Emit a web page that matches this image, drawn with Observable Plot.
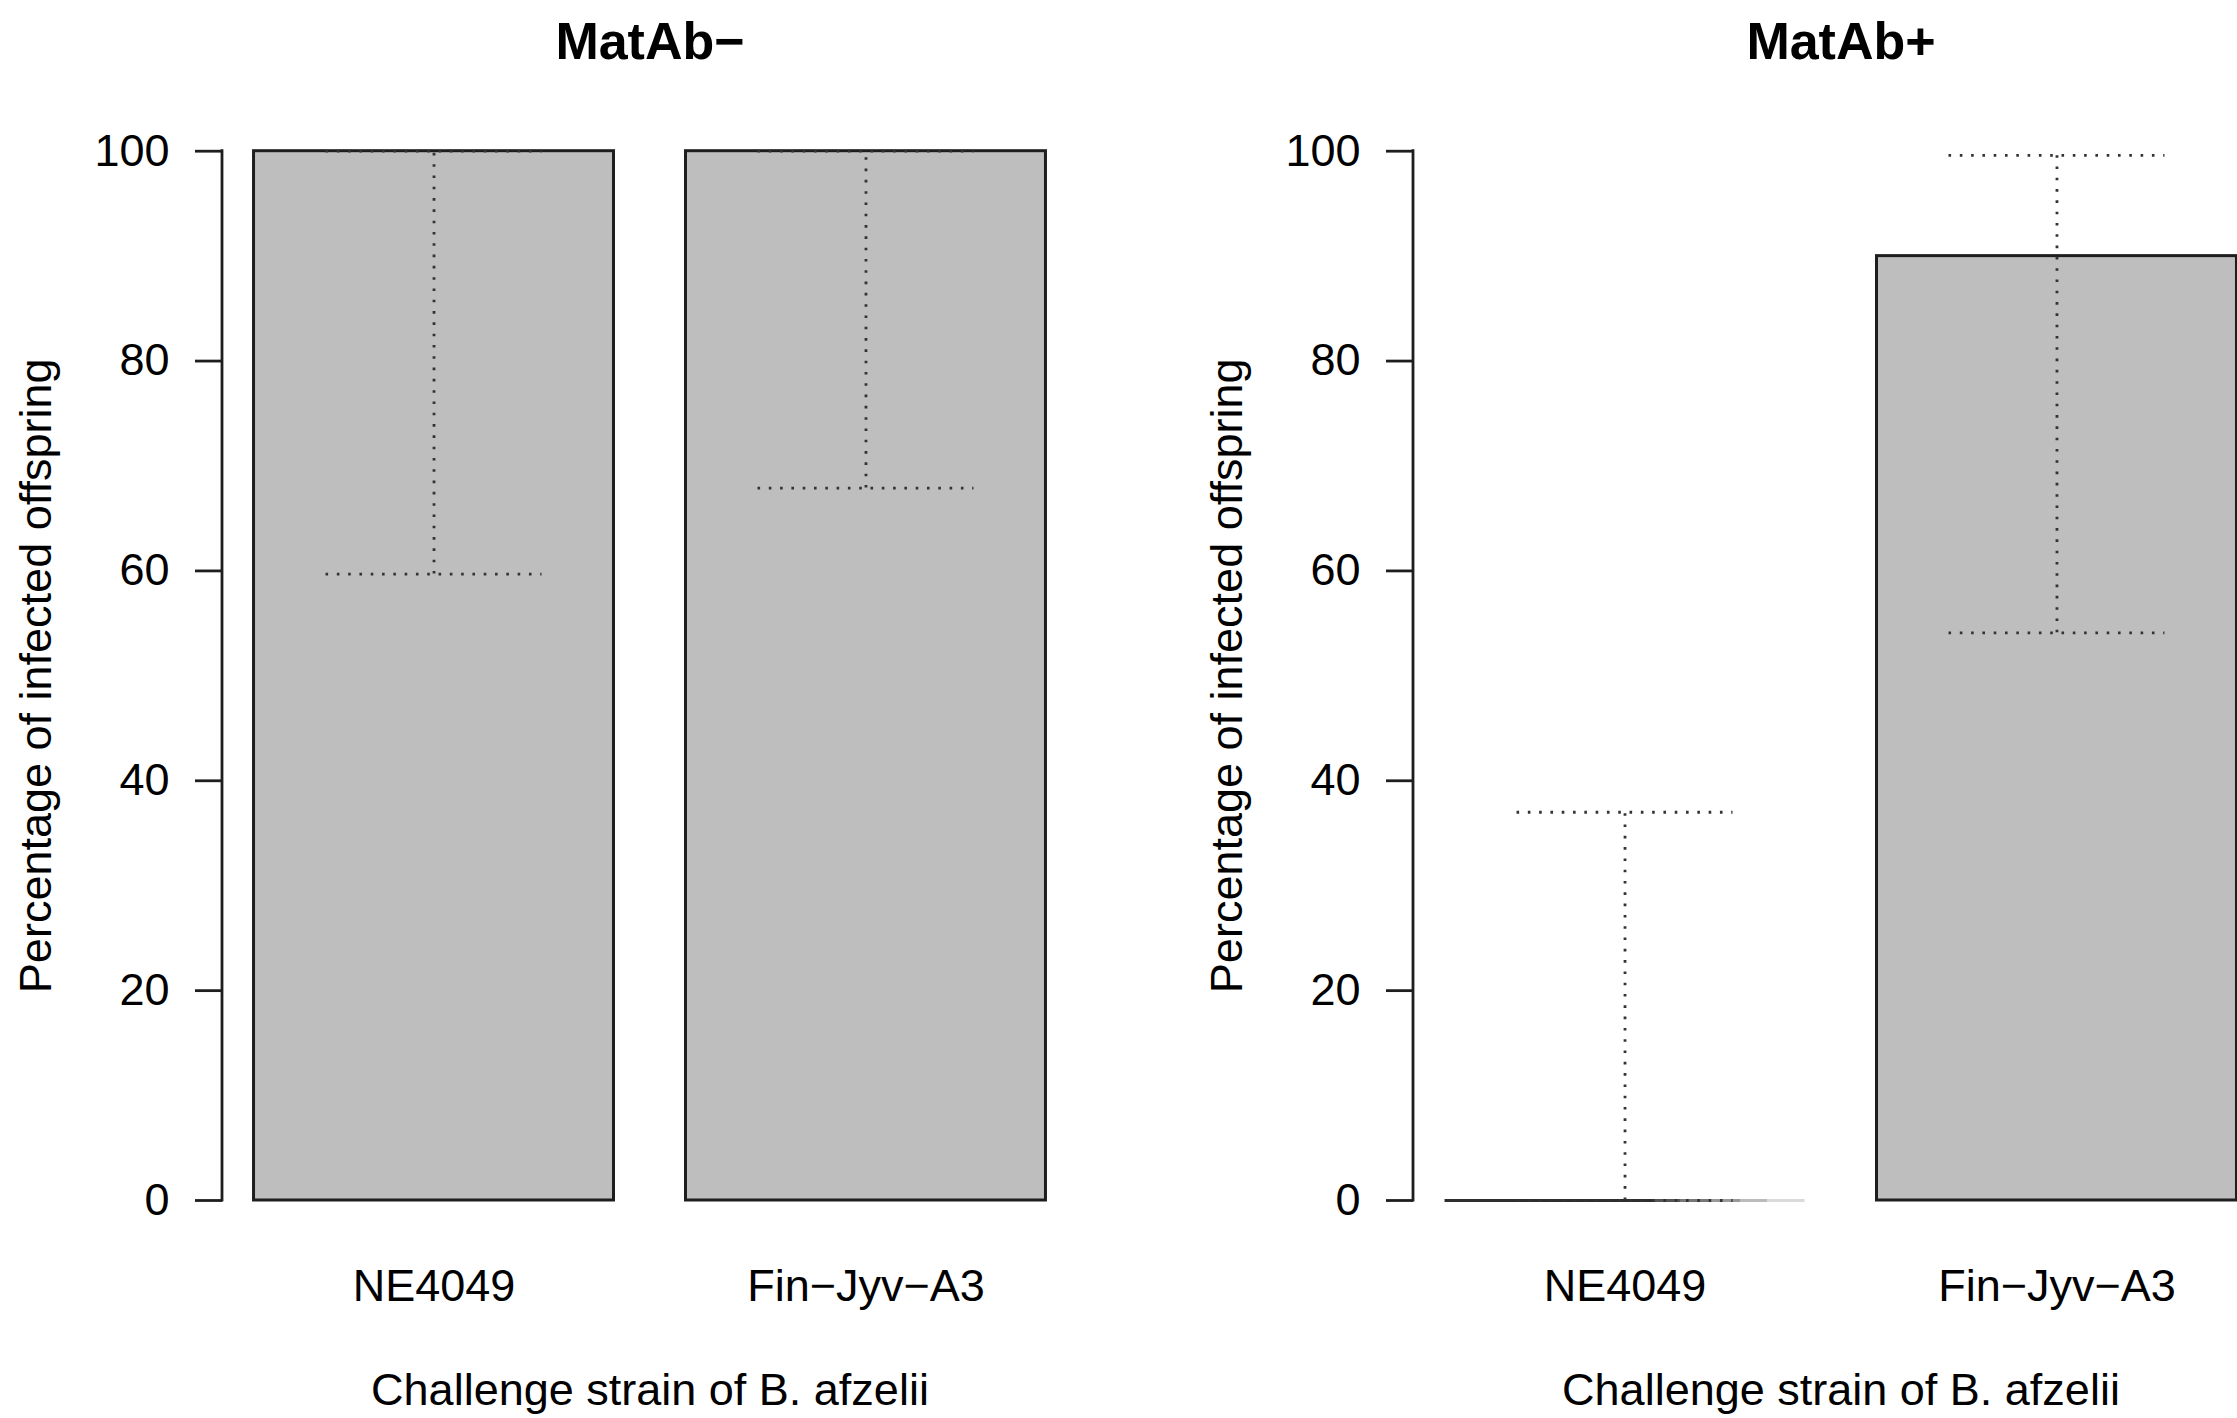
<!DOCTYPE html>
<html>
<head>
<meta charset="utf-8">
<script src="https://cdn.jsdelivr.net/npm/d3@7"></script>
<script src="https://cdn.jsdelivr.net/npm/@observablehq/plot@0.6"></script>
<style>
  html, body { margin: 0; padding: 0; background: #ffffff; }
  #wrap { position: relative; width: 2237px; height: 1418px; overflow: hidden; background: #ffffff; }
  #wrap > .panel { position: absolute; top: 0; }
</style>
</head>
<body>
<div id="wrap"></div>
<script>
// ---- data ----
const categories = ["NE4049", "Fin\u2212Jyv\u2212A3"];
const panelTitles = ["MatAb\u2212", "MatAb+"];
const xAxisTitle = "Challenge strain of B. afzelii";
const yAxisTitle = "Percentage of infected offspring";
const yTicks = [0, 20, 40, 60, 80, 100];

const matAbMinusValues = [100, 100];
const matAbMinusLower  = [59.7, 67.9];
const matAbMinusUpper  = [100, 100];

const matAbPlusValues = [0, 90];
const matAbPlusLower  = [0, 54.1];
const matAbPlusUpper  = [37.0, 99.6];

// ---- drawing ----
const FONT = "'Liberation Sans', Arial, Helvetica, sans-serif";
const INK = "#1e1e1e";
const DOT = "#333333";
const FS = 45;

function makePanel(idx, title, values, lower, upper) {
  const data = categories.map((c, i) => ({strain: c, value: values[i], lo: lower[i], hi: upper[i]}));
  const W = 1118, H = 1418;
  const gradId = "zeroFade" + idx;

  const gradientDefs = (index, scales) => {
    const xs = scales.x;
    const bw = typeof xs.bandwidth === "function" ? xs.bandwidth() : xs.bandwidth;
    const defs = d3.create("svg:defs");
    const zero = data.find(d => d.value === 0);
    const x0 = zero ? xs(zero.strain) : 0;
    const g = defs.append("linearGradient")
      .attr("id", gradId)
      .attr("gradientUnits", "userSpaceOnUse")
      .attr("x1", x0).attr("x2", x0 + bw).attr("y1", 0).attr("y2", 0);
    const steps = [[0, "#2e2e2e"], [0.576, "#2e2e2e"], [0.576, "#555"], [0.655, "#555"], [0.655, "#777"],
                   [0.74, "#777"], [0.74, "#999"], [0.82, "#999"], [0.82, "#bbb"], [0.895, "#bbb"],
                   [0.895, "#dadada"], [1, "#dadada"]];
    for (const [o, c] of steps) g.append("stop").attr("offset", o).attr("stop-color", c);
    return defs.node();
  };

  const axisLine = (index, scales, values, dimensions) => {
    const x = dimensions.marginLeft;
    return d3.create("svg:line")
      .attr("x1", x).attr("x2", x)
      .attr("y1", scales.y(yTicks[0])).attr("y2", scales.y(yTicks[yTicks.length - 1]))
      .attr("stroke", INK).attr("stroke-width", 2.8)
      .attr("stroke-linecap", "square")
      .node();
  };

  const dotted = {stroke: DOT, strokeWidth: 2.8, strokeDasharray: "2.6,8.7"};

  return Plot.plot({
    width: W,
    height: H,
    marginLeft: 222,
    marginRight: W - 1077,
    marginTop: 150.7,
    marginBottom: H - 1200,
    style: {fontFamily: FONT, background: "white", color: "black", overflow: "visible"},
    x: {domain: categories, paddingInner: 1 / 6, paddingOuter: 0.073, round: false, axis: null},
    y: {domain: [0, 100]},
    marks: [
      gradientDefs,
      Plot.barY(data.filter(d => d.value > 0), {x: "strain", y: "value", fill: "#bebebe", stroke: INK, strokeWidth: 3}),
      Plot.tickY(data.filter(d => d.value === 0), {x: "strain", y: "value", stroke: `url(#${gradId})`, strokeWidth: 3}),
      Plot.ruleX(data, {x: "strain", y1: "lo", y2: "hi", ...dotted}),
      Plot.tickY(data, {x: "strain", y: "lo", insetLeft: 72, insetRight: 72, ...dotted}),
      Plot.tickY(data, {x: "strain", y: "hi", insetLeft: 72, insetRight: 72, ...dotted}),
      axisLine,
      Plot.axisY(yTicks, {tickSize: 27, tickPadding: 26, fontSize: FS, stroke: INK, strokeWidth: 2.8, fill: "black", label: null}),
      Plot.text(data, {x: "strain", text: "strain", frameAnchor: "bottom", lineAnchor: "bottom", dy: 100, fontSize: FS, fill: "black"}),
      Plot.text([xAxisTitle], {text: d => d, frameAnchor: "bottom", lineAnchor: "bottom", dy: 204, fontSize: FS, fill: "black"}),
      Plot.text([yAxisTitle], {text: d => d, frameAnchor: "left", textAnchor: "middle", rotate: -90, lineAnchor: "bottom", dx: -172, fontSize: FS, fill: "black"}),
      Plot.text([title], {text: d => d, frameAnchor: "top", lineAnchor: "bottom", dy: -92.7, fontSize: 52, fontWeight: "bold", fill: "black"})
    ]
  });
}

const wrap = document.getElementById("wrap");
const offsets = [0, 1191];
const series = [
  [matAbMinusValues, matAbMinusLower, matAbMinusUpper],
  [matAbPlusValues, matAbPlusLower, matAbPlusUpper]
];
panelTitles.forEach((t, i) => {
  const svg = makePanel(i, t, ...series[i]);
  svg.classList.add("panel");
  svg.style.left = offsets[i] + "px";
  wrap.appendChild(svg);
});
</script>
</body>
</html>
